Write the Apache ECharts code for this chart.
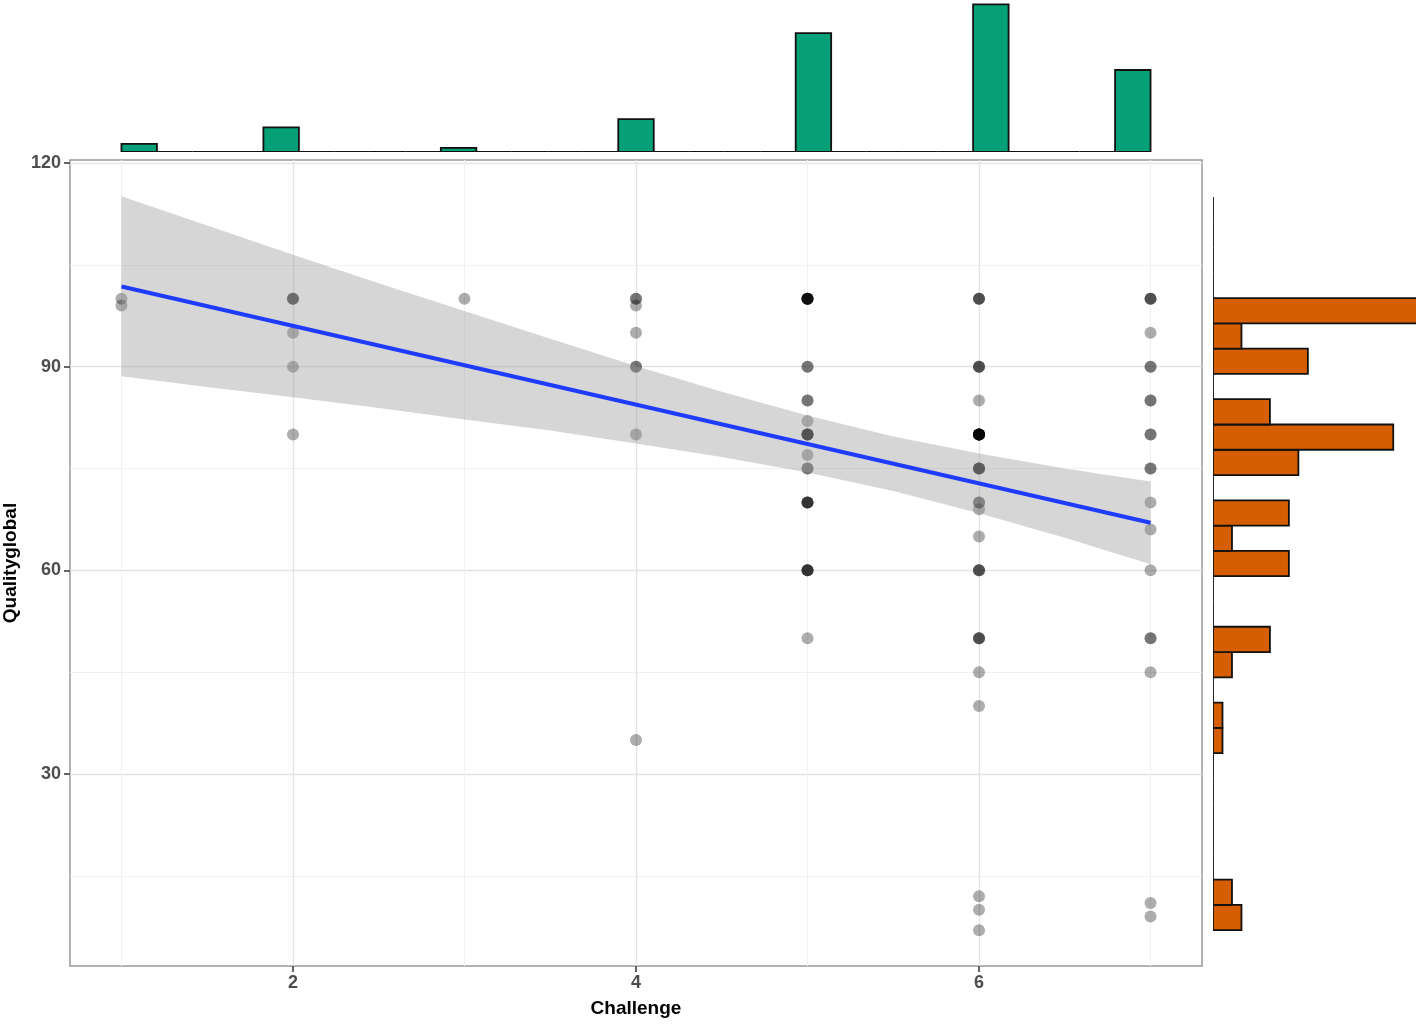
<!DOCTYPE html>
<html>
<head>
<meta charset="utf-8">
<script src="https://cdn.jsdelivr.net/npm/echarts@6/dist/echarts.min.js"></script>
<style>
html,body{margin:0;padding:0;background:#ffffff;}
#chart{width:1416px;height:1024px;}
</style>
</head>
<body>
<div id="chart"></div>
<script>
// ---------------- data ----------------
// Observations (Challenge, Qualityglobal), one entry per respondent
const pointChallenge = [
  1,1,
  2,2,2,2,2,2,
  3,
  4,4,4,4,4,4,4,4,
  5,5,5,5,5,5,5,5,5,5,5,5,5,5,5,5,5,5,5,5,5,5,5,5,5,5,5,5,5,
  6,6,6,6,6,6,6,6,6,6,6,6,6,6,6,6,6,6,6,6,6,6,6,6,6,6,6,6,6,6,6,6,6,6,6,6,
  7,7,7,7,7,7,7,7,7,7,7,7,7,7,7,7,7,7,7,7
];
const pointQuality = [
  100,99,
  100,100,100,95,90,80,
  100,
  100,100,99,95,90,90,80,35,
  100,100,100,100,100,100,100,90,90,85,85,82,80,80,80,80,80,77,75,75,70,70,70,70,60,60,60,60,50,
  100,100,100,90,90,90,85,80,80,80,80,80,80,80,80,80,80,75,75,75,75,70,70,69,65,60,60,60,50,50,50,45,40,12,10,7,
  100,100,100,95,90,90,85,85,80,80,75,75,70,66,60,50,50,45,11,9
];

// Linear fit and its confidence band
const fitX = [1, 7];
const fitY = [101.8, 67.0];
const bandX     = [1, 1.5, 2, 2.5, 3, 3.5, 4, 4.5, 5, 5.5, 6, 6.5, 7];
const bandUpper = [115.1, 110.8, 106.5, 102.3, 98.2, 94.1, 90.1, 86.3, 82.8, 79.7, 77.2, 75.0, 73.1];
const bandLower = [88.6, 87.0, 85.5, 83.9, 82.2, 80.6, 78.7, 76.7, 74.4, 71.7, 68.4, 64.8, 60.9];

// Marginal histogram of Challenge (29 bins spanning 1..7)
const topBinStart = 1.0;
const topBinEnd = 7.0;
const topCounts = [2,0,0,0,6,0,0,0,0,1,0,0,0,0,8,0,0,0,0,29,0,0,0,0,36,0,0,0,20];

// Marginal histogram of Qualityglobal (29 bins spanning 7..115)
const rightBinStart = 7.0;
const rightBinEnd = 115.0;
const rightCounts = [3,2,0,0,0,0,0,1,1,0,2,6,0,0,8,2,8,0,9,19,6,0,10,3,22,0,0,0,0];

// Tick labels / grid values
const xMajorTicks = [2, 4, 6];
const xMinorTicks = [1, 3, 5, 7];
const yMajorTicks = [30, 60, 90, 120];
const yMinorTicks = [15, 45, 75, 105];

// ---------------- build ----------------
const FONT = "'Liberation Sans', Arial, Helvetica, sans-serif";
const X_MIN = 0.7, X_MAX = 7.3;
const Y_MIN = 1.72, Y_MAX = 120.44;

function makeBins(start, end, counts) {
  const w = (end - start) / counts.length;
  return counts.map((c, i) => [start + i * w, start + (i + 1) * w, c]);
}
const topBins = makeBins(topBinStart, topBinEnd, topCounts);
const rightBins = makeBins(rightBinStart, rightBinEnd, rightCounts);

const scatterData = pointChallenge.map((x, i) => [x, pointQuality[i]]);

const chart = echarts.init(document.getElementById('chart'), null, {renderer: 'canvas'});

const majorLine = {color: '#e4e4e4', width: 1.4};
const minorLine = {color: '#f1f1f1', width: 1};

const option = {
  animation: false,
  backgroundColor: '#ffffff',
  grid: [
    {left: 70, right: 214, top: 160, bottom: 58, show: true, borderColor: '#9a9a9a', borderWidth: 1.5,
     backgroundColor: 'transparent', containLabel: false, outerBoundsMode: 'none'},
    {left: 70, right: 214, top: 0, bottom: 872, containLabel: false, outerBoundsMode: 'none'},
    {left: 1213, right: 0, top: 160, bottom: 58, containLabel: false, outerBoundsMode: 'none'}
  ],
  xAxis: [
    {
      gridIndex: 0, type: 'value', min: X_MIN, max: X_MAX,
      axisLine: {show: false},
      axisTick: {show: true, length: 6, lineStyle: {color: '#333333', width: 1.5}, customValues: xMajorTicks},
      axisLabel: {customValues: xMajorTicks, color: '#4d4d4d', fontSize: 18, fontWeight: 'bold', fontFamily: FONT, margin: 8},
      splitLine: {show: true, lineStyle: majorLine},
      name: 'Challenge', nameLocation: 'middle', nameGap: 33,
      nameTextStyle: {color: '#000000', fontSize: 19, fontWeight: 'bold', fontFamily: FONT}
    },
    {
      gridIndex: 0, type: 'value', min: X_MIN, max: X_MAX, position: 'bottom',
      axisLine: {show: false},
      axisTick: {show: true, length: 0, lineStyle: {color: 'rgba(0,0,0,0)'}, customValues: xMinorTicks},
      axisLabel: {show: false},
      splitLine: {show: true, lineStyle: minorLine}
    },
    {gridIndex: 1, type: 'value', min: X_MIN, max: X_MAX, show: false},
    {gridIndex: 2, type: 'value', min: 0, max: 21.4, show: false}
  ],
  yAxis: [
    {
      gridIndex: 0, type: 'value', min: Y_MIN, max: Y_MAX,
      axisLine: {show: false},
      axisTick: {show: true, length: 6, lineStyle: {color: '#333333', width: 1.5}, customValues: yMajorTicks},
      axisLabel: {customValues: yMajorTicks, color: '#4d4d4d', fontSize: 18, fontWeight: 'bold', fontFamily: FONT, margin: 9},
      splitLine: {show: true, lineStyle: majorLine},
      name: 'Qualityglobal', nameLocation: 'middle', nameGap: 48, nameRotate: 90,
      nameTextStyle: {color: '#000000', fontSize: 19, fontWeight: 'bold', fontFamily: FONT}
    },
    {
      gridIndex: 0, type: 'value', min: Y_MIN, max: Y_MAX, position: 'left',
      axisLine: {show: false},
      axisTick: {show: true, length: 0, lineStyle: {color: 'rgba(0,0,0,0)'}, customValues: yMinorTicks},
      axisLabel: {show: false},
      splitLine: {show: true, lineStyle: minorLine}
    },
    {gridIndex: 1, type: 'value', min: 0, max: 37.07, show: false},
    {gridIndex: 2, type: 'value', min: Y_MIN, max: Y_MAX, show: false}
  ],
  series: [
    {
      type: 'scatter', xAxisIndex: 0, yAxisIndex: 0, z: 2,
      data: scatterData, symbol: 'circle', symbolSize: 12,
      itemStyle: {color: '#000000', opacity: 0.32},
      silent: true
    },
    {
      type: 'custom', xAxisIndex: 0, yAxisIndex: 0, z: 3, silent: true,
      data: [[bandX[0], bandUpper[0]]],
      renderItem: function (params, api) {
        const pts = [];
        for (let i = 0; i < bandX.length; i++) pts.push(api.coord([bandX[i], bandUpper[i]]));
        for (let i = bandX.length - 1; i >= 0; i--) pts.push(api.coord([bandX[i], bandLower[i]]));
        return {type: 'polygon', shape: {points: pts}, style: {fill: 'rgba(153,153,153,0.4)'}};
      }
    },
    {
      type: 'line', xAxisIndex: 0, yAxisIndex: 0, z: 4, silent: true,
      data: fitX.map((x, i) => [x, fitY[i]]),
      symbol: 'none', lineStyle: {color: '#1f3bff', width: 4}
    },
    {
      type: 'custom', xAxisIndex: 2, yAxisIndex: 2, silent: true, clip: true,
      data: topBins, encode: {x: [0, 1], y: 2},
      renderItem: function (params, api) {
        const p0 = api.coord([api.value(0), 0]);
        const p1 = api.coord([api.value(1), api.value(2)]);
        return {type: 'rect',
          shape: {x: p0[0], y: p1[1], width: p1[0] - p0[0], height: p0[1] - p1[1]},
          style: {fill: '#05a077', stroke: '#111111', lineWidth: 1.8}};
      }
    },
    {
      type: 'custom', xAxisIndex: 3, yAxisIndex: 3, silent: true, clip: true,
      data: rightBins, encode: {y: [0, 1], x: 2},
      renderItem: function (params, api) {
        const p0 = api.coord([0, api.value(0)]);
        const p1 = api.coord([api.value(2), api.value(1)]);
        return {type: 'rect',
          shape: {x: p0[0], y: p1[1], width: p1[0] - p0[0], height: p0[1] - p1[1]},
          style: {fill: '#d55e00', stroke: '#111111', lineWidth: 1.8}};
      }
    }
  ]
};
chart.setOption(option);
</script>
</body>
</html>
